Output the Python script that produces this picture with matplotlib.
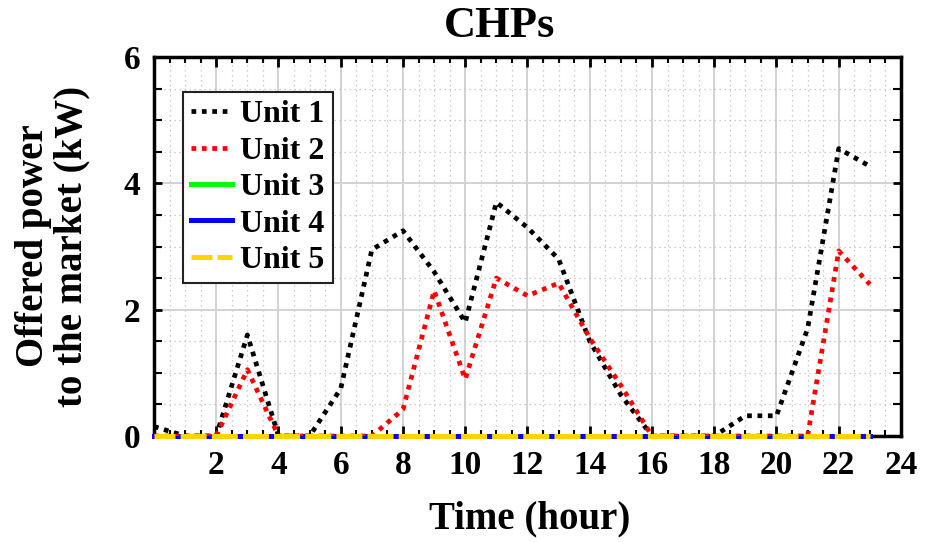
import numpy as np
import matplotlib.pyplot as plt
from matplotlib.ticker import MultipleLocator

plt.rcParams['font.family'] = ['Liberation Serif', 'DejaVu Serif']
plt.rcParams['font.weight'] = 'bold'

# offered power per hour (kW)
hours = list(range(24))
unit1 = [0.15, 0, 0, 1.6, 0, 0, 0.75, 2.95, 3.25, 2.6, 1.8, 3.7,
         3.3, 2.8, 1.5, 0.65, 0, 0, 0, 0.32, 0.32, 1.7, 4.55, 4.27]
unit2 = [0, 0, 0, 1.05, 0, 0, 0, 0, 0.42, 2.3, 0.9, 2.5,
         2.22, 2.42, 1.55, 0.8, 0, 0, 0, 0, 0, 0, 2.93, 2.4]
unit3 = [0] * 24
unit4 = [0] * 24
unit5 = [0] * 24

fig = plt.figure(figsize=(9.26, 5.42), dpi=100)
ax = fig.add_axes([0.1663, 0.1956, 0.8067, 0.6992])

dots = (0, (1, 1.2))
ax.plot(hours, unit1, color='black', linestyle=dots, linewidth=3.4,
        dash_capstyle='butt', label='Unit 1', zorder=4)
ax.plot(hours, unit2, color='red', linestyle=dots, linewidth=3.4,
        dash_capstyle='butt', label='Unit 2', zorder=4)
ax.plot(hours, unit3, color='#00ff00', linewidth=3.6, label='Unit 3',
        zorder=3, clip_on=False)
ax.plot(hours, unit4, color='blue', linewidth=3.6, label='Unit 4',
        zorder=3, clip_on=False)
ax.plot(hours, unit5, color='#ffd500', linestyle=(1.0, (5.2, 1.03)),
        linewidth=3.6, dash_capstyle='butt', label='Unit 5', zorder=5,
        clip_on=False)

ax.set_xlim(0, 24)
ax.set_ylim(0, 6)
ax.set_xticks(range(2, 25, 2))
ax.set_yticks([0, 2, 4, 6])
ax.xaxis.set_minor_locator(MultipleLocator(0.5))
ax.yaxis.set_minor_locator(MultipleLocator(0.5))

ax.grid(which='major', color='#d2d2d2', linewidth=1.4, linestyle='-')
ax.grid(which='minor', color='#bdbdbd', linewidth=0.9, linestyle=(0, (1, 3)))
ax.set_axisbelow(True)

ax.tick_params(which='both', direction='in', top=True, right=True,
               labelsize=24, width=2)
ax.tick_params(axis='x', which='major', length=7, pad=10)
ax.tick_params(axis='x', which='minor', length=4.5, width=1.5)
ax.tick_params(axis='y', which='both', length=5.5, pad=10)
ax.tick_params(axis='y', which='minor', width=1.5)
for sp in ax.spines.values():
    sp.set_linewidth(2.5)

fig.text(500 / 926, 1 - 37 / 542, 'CHPs', fontsize=32, fontweight='bold',
         ha='center', va='baseline')
fig.text(530 / 926, 1 - 528 / 542, 'Time (hour)', fontsize=28,
         fontweight='bold', ha='center', va='baseline')
fig.text(53 / 926, 1 - 246 / 542, 'Offered power\nto the market (kW)',
         fontsize=28, fontweight='bold', rotation=90, ha='center',
         va='center', multialignment='center', linespacing=1.05)

leg = ax.legend(loc='upper left', bbox_to_anchor=(0.0385, 0.9077),
                prop={'size': 23, 'weight': 'bold'}, fancybox=False,
                framealpha=1, edgecolor='#222222', handlelength=1.3,
                handletextpad=0.25, labelspacing=0.22, borderpad=0.25,
                borderaxespad=0)
leg.get_frame().set_linewidth(1.5)

fig.savefig('out.png', dpi=100)
